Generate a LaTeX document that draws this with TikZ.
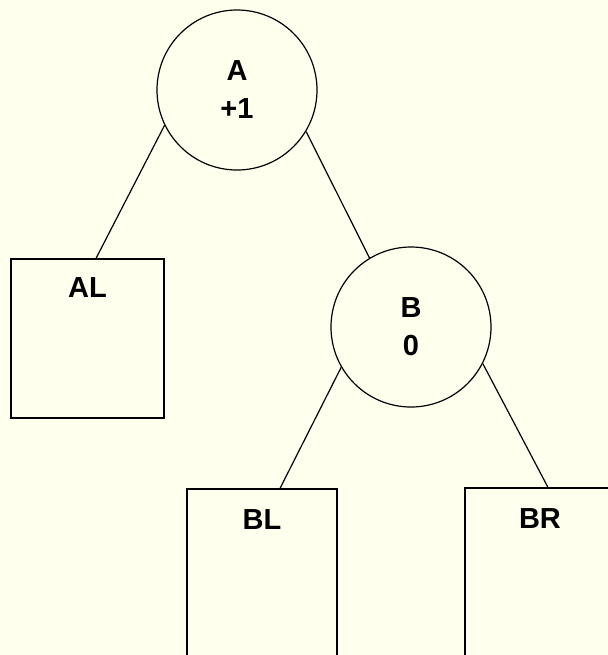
\documentclass[tikz,border=0pt]{standalone}
\usepackage{fontspec}
\setmainfont{Liberation Sans}
\usetikzlibrary{positioning}
\definecolor{paper}{RGB}{255,255,238}
\begin{document}
\begin{tikzpicture}[x=0.5pt,y=-0.5pt,line width=0.6pt,
  every node/.style={font=\fontsize{14.5}{19}\selectfont\bfseries},
  avl/.style={draw,circle,minimum size=80pt,inner sep=0pt,align=center},
  subtree/.style={draw,rectangle,inner sep=0pt}]
  \fill[paper] (0,0) rectangle (608,655);
  \clip (0,0) rectangle (608,655);

  \node[avl] (A) at (237,90) {A\\+1};
  \node[avl] (B) at (411,327) {B\\0};

  \node[subtree,minimum width=76.5pt,minimum height=79.5pt,label={[anchor=base,yshift=-19.5pt]north:AL}] (AL) at (87.5,338.5) {};
  \node[subtree,minimum width=75pt,minimum height=100pt,label={[anchor=base,yshift=-20.5pt]north:BL}] (BL) at (262,589) {};
  \node[subtree,minimum width=75pt,minimum height=100pt,label={[anchor=base,yshift=-20.5pt]north:BR}] (BR) at (540,588) {};

  \draw (A.206) -- ([xshift=4.25pt]AL.north);
  \draw (A.-31) -- (B.121);
  \draw (B.210) -- ([xshift=9pt]BL.north);
  \draw (B.-27) -- ([xshift=4pt]BR.north);
\end{tikzpicture}
\end{document}
